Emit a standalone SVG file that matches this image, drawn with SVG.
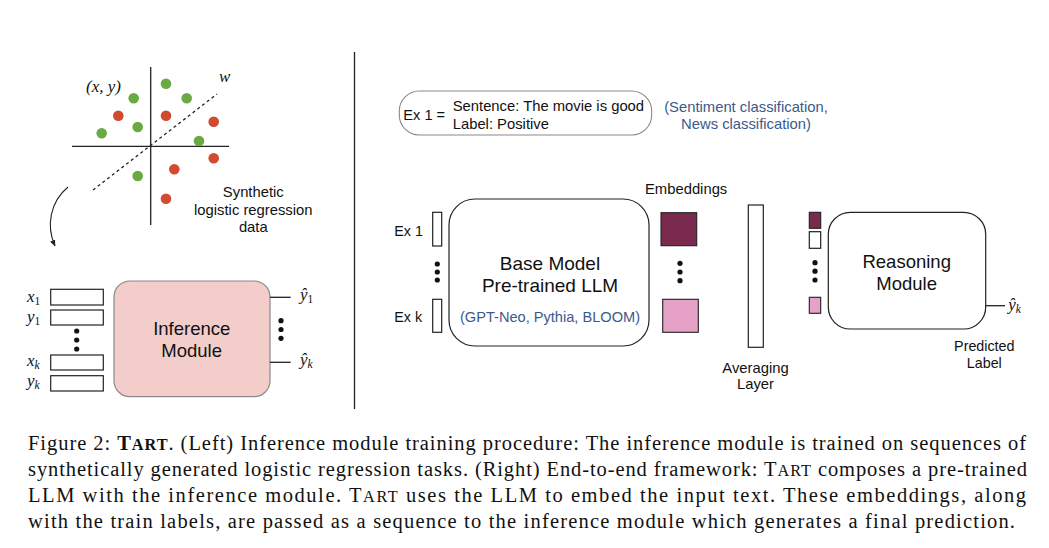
<svg xmlns="http://www.w3.org/2000/svg" width="1049" height="548" viewBox="0 0 1049 548">
<defs>
<style>
.sans{font-family:"Liberation Sans",Arial,sans-serif;fill:#111}
.sm{font-size:14.8px}
.big{font-size:18.5px}
.blue{fill:#3a5a8c}
.math{font-family:"Liberation Serif","Times New Roman",serif;font-style:italic;fill:#111;font-size:17px}
.cap{font-family:"Liberation Serif","Times New Roman",serif;font-size:20.5px;fill:#111}
.ln{stroke:#222;stroke-width:1.3;fill:none}
.box{fill:#fff;stroke:#222;stroke-width:1.2}
.g{fill:#6aaa45}
.r{fill:#d24a30}
.dot{fill:#111}
</style>
<marker id="ah" viewBox="0 0 10 10" refX="9" refY="5" markerWidth="6" markerHeight="6" orient="auto">
<path d="M0,1 L10,5 L0,9 Z" fill="#222"/>
</marker>
</defs>
<rect width="1049" height="548" fill="#fff"/>

<!-- separator -->
<line x1="354.5" y1="52" x2="354.5" y2="409" stroke="#222" stroke-width="1.3"/>

<!-- scatter plot -->
<g id="scatter">
<line class="ln" x1="150.7" y1="67" x2="150.7" y2="225"/>
<line class="ln" x1="72" y1="146.3" x2="229" y2="146.3"/>
<line x1="93" y1="190" x2="217" y2="94" stroke="#222" stroke-width="1.3" stroke-dasharray="3,3"/>
<circle class="g" cx="166" cy="83.7" r="5.3"/>
<circle class="g" cx="133.7" cy="98.3" r="5.3"/>
<circle class="g" cx="186.7" cy="98.3" r="5.3"/>
<circle class="g" cx="137.7" cy="127" r="5.3"/>
<circle class="g" cx="101.7" cy="133.3" r="5.3"/>
<circle class="g" cx="199" cy="141" r="5.3"/>
<circle class="g" cx="137.7" cy="176" r="5.3"/>
<circle class="r" cx="118.3" cy="115.7" r="5.3"/>
<circle class="r" cx="166" cy="115.7" r="5.3"/>
<circle class="r" cx="213.7" cy="121.7" r="5.3"/>
<circle class="r" cx="213.7" cy="158.3" r="5.3"/>
<circle class="r" cx="174.3" cy="169.3" r="5.3"/>
<circle class="r" cx="166" cy="198.7" r="5.3"/>
<text class="math" x="86" y="92">(x, y)</text>
<text class="math" x="219" y="82">w</text>
<text class="sans sm" text-anchor="middle" x="253.3" y="196.5">Synthetic</text>
<text class="sans sm" text-anchor="middle" x="253.3" y="214.5">logistic regression</text>
<text class="sans sm" text-anchor="middle" x="253.3" y="232">data</text>
</g>

<!-- inference module -->
<g id="inference-module">
<rect x="114" y="281" width="156" height="115.7" rx="16" fill="#f2cdc9" stroke="#8a8a8a" stroke-width="1.2"/>
<text class="sans big" text-anchor="middle" x="191.7" y="334.5">Inference</text>
<text class="sans big" text-anchor="middle" x="191.7" y="356.5">Module</text>
</g>

<g id="inference-inputs">
<rect class="box" x="50.7" y="289.3" width="52.6" height="15.7"/>
<rect class="box" x="50.7" y="310" width="52.6" height="15"/>
<rect class="box" x="50.7" y="355" width="52.6" height="15"/>
<rect class="box" x="50.7" y="375.7" width="52.6" height="15.3"/>
<circle class="dot" cx="76.7" cy="331" r="2.6"/>
<circle class="dot" cx="76.7" cy="340" r="2.6"/>
<circle class="dot" cx="76.7" cy="349" r="2.6"/>
<text class="math" x="27" y="302">x<tspan font-size="11.5" font-style="normal" dy="3">1</tspan></text>
<text class="math" x="27" y="322">y<tspan font-size="11.5" font-style="normal" dy="3">1</tspan></text>
<text class="math" x="27" y="366">x<tspan font-size="11.5" dy="3">k</tspan></text>
<text class="math" x="27" y="386">y<tspan font-size="11.5" dy="3">k</tspan></text>
</g>

<g id="inference-outputs">
<circle class="dot" cx="281" cy="320.7" r="2.6"/>
<circle class="dot" cx="281" cy="329.5" r="2.6"/>
<circle class="dot" cx="281" cy="338.3" r="2.6"/>
<text class="math" x="300" y="300">ŷ<tspan font-size="11.5" font-style="normal" dy="3">1</tspan></text>
<text class="math" x="300" y="365">ŷ<tspan font-size="11.5" dy="3">k</tspan></text>
</g>

<!-- example box -->
<g id="example">
<rect x="399.3" y="91" width="252.4" height="44" rx="20" fill="#fff" stroke="#8a8a8a" stroke-width="1.1"/>
<text class="sans" font-size="14.6" x="403.3" y="120">Ex 1 =</text>
<text class="sans" font-size="14.8" x="452.7" y="111">Sentence: The movie is good</text>
<text class="sans" font-size="14.8" x="452.7" y="128.5">Label: Positive</text>
</g>
<g id="tasks">
<text class="sans blue" font-size="14.8" text-anchor="middle" x="746" y="111.5">(Sentiment classification,</text>
<text class="sans blue" font-size="14.8" text-anchor="middle" x="746" y="129">News classification)</text>
</g>

<!-- LLM inputs -->
<g id="llm-inputs">
<rect class="box" x="432.7" y="212.3" width="9" height="33.7"/>
<rect class="box" x="432.7" y="299.3" width="9" height="33"/>
<circle class="dot" cx="437.3" cy="264" r="2.6"/>
<circle class="dot" cx="437.3" cy="272" r="2.6"/>
<circle class="dot" cx="437.3" cy="280" r="2.6"/>
<text class="sans" font-size="14.3" x="394.3" y="235.5">Ex 1</text>
<text class="sans" font-size="14.3" x="394.3" y="321.5">Ex k</text>
</g>

<g id="base-model">
<rect x="449" y="199" width="200" height="147" rx="26" fill="#fff" stroke="#222" stroke-width="1.2"/>
<text class="sans" font-size="19" text-anchor="middle" x="550" y="269.5">Base Model</text>
<text class="sans" font-size="19" text-anchor="middle" x="550" y="292">Pre-trained LLM</text>
<text class="sans blue" font-size="14.6" text-anchor="middle" x="550" y="321.8">(GPT-Neo, Pythia, BLOOM)</text>
</g>

<g id="embeddings">
<text class="sans sm" x="645" y="193.5">Embeddings</text>
<rect x="661" y="212.7" width="35.7" height="33" fill="#7b2a4f" stroke="#222" stroke-width="1.1"/>
<rect x="662.7" y="299.3" width="35.6" height="33" fill="#e5a1c6" stroke="#222" stroke-width="1.1"/>
<circle class="dot" cx="680" cy="263.3" r="2.6"/>
<circle class="dot" cx="680" cy="272" r="2.6"/>
<circle class="dot" cx="680" cy="280.7" r="2.6"/>
</g>

<g id="averaging-layer">
<rect class="box" x="748.3" y="205" width="15" height="142.3"/>
<text class="sans sm" text-anchor="middle" x="755.5" y="372.5">Averaging</text>
<text class="sans sm" text-anchor="middle" x="755.5" y="389">Layer</text>
</g>

<g id="reasoning-inputs">
<rect x="809.3" y="212.3" width="11.4" height="16" fill="#7b2a4f" stroke="#222" stroke-width="1.1"/>
<rect class="box" x="809.3" y="231.7" width="11.4" height="16.6"/>
<rect x="809.3" y="297.3" width="11.4" height="16" fill="#e5a1c6" stroke="#222" stroke-width="1.1"/>
<circle class="dot" cx="815" cy="262.7" r="2.6"/>
<circle class="dot" cx="815" cy="271.2" r="2.6"/>
<circle class="dot" cx="815" cy="280" r="2.6"/>
</g>

<g id="reasoning-module">
<rect x="828.3" y="212.3" width="157.4" height="116.7" rx="22" fill="#fff" stroke="#222" stroke-width="1.2"/>
<text class="sans big" text-anchor="middle" x="906.7" y="267.5">Reasoning</text>
<text class="sans big" text-anchor="middle" x="906.7" y="289.8">Module</text>
</g>

<g id="prediction">
<text class="math" x="1008.3" y="309.5">ŷ<tspan font-size="11.5" dy="3">k</tspan></text>
<text class="sans" font-size="14.3" text-anchor="middle" x="984.3" y="350.5">Predicted</text>
<text class="sans" font-size="14.3" text-anchor="middle" x="984.3" y="368">Label</text>
</g>

<!-- connectors -->
<g id="connectors">
<line class="ln" x1="270" y1="297.3" x2="290.7" y2="297.3"/>
<line class="ln" x1="270" y1="362.3" x2="290.7" y2="362.3"/>
<line class="ln" x1="985.7" y1="305.7" x2="1005" y2="305.7"/>
<path d="M68,187 C50,202 46,226 55,246" stroke="#222" stroke-width="1.1" fill="none" marker-end="url(#ah)"/>
</g>

<!-- caption -->
<g id="caption">
<text class="cap" x="28" y="449.5" textLength="998" lengthAdjust="spacing">Figure 2: <tspan font-weight="bold">T</tspan><tspan font-weight="bold" font-size="16.3">ART</tspan>. (Left) Inference module training procedure: The inference module is trained on sequences of</text>
<text class="cap" x="28" y="475.5" textLength="999" lengthAdjust="spacing">synthetically generated logistic regression tasks. (Right) End-to-end framework: T<tspan font-size="16.3">ART</tspan> composes a pre-trained</text>
<text class="cap" x="28" y="501.5" textLength="998" lengthAdjust="spacing">LLM with the inference module. T<tspan font-size="16.3">ART</tspan> uses the LLM to embed the input text. These embeddings, along</text>
<text class="cap" x="28" y="527.5" textLength="987" lengthAdjust="spacing">with the train labels, are passed as a sequence to the inference module which generates a final prediction.</text>
</g>
</svg>
